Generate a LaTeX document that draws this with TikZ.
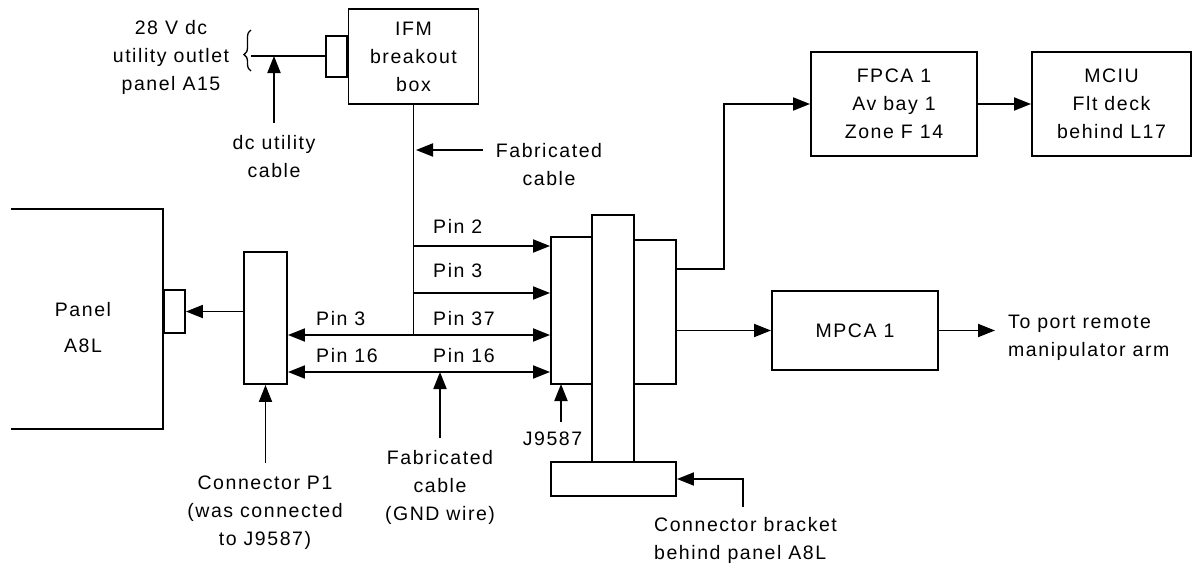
\documentclass[tikz,border=0pt]{standalone}
\usepackage{fontspec}
\setmainfont{Liberation Sans}[LetterSpace=8]
\usetikzlibrary{arrows.meta,positioning,decorations.pathreplacing}
\tikzset{
  box/.style={draw,line width=1.9pt,inner sep=0pt,align=center},
  lbl/.style={inner sep=0pt,align=center},
  wire/.style={line width=1.9pt},
  arr/.style={wire,-{Triangle[length=17pt,width=13pt]}},
  darr/.style={wire,{Triangle[length=17pt,width=13pt]}-{Triangle[length=17pt,width=13pt]}}
}

\begin{document}
\begin{tikzpicture}[x=1pt,y=-1pt,font=\fontsize{19.5}{28}\selectfont]
    \useasboundingbox (0,0) rectangle (1193,565);
    % boxes
    \node[box,minimum width=130pt,minimum height=95pt] (ifm) at (413.5,56.5) {IFM\\breakout\\box};
    \node[box,minimum width=21pt,minimum height=41pt,anchor=east] (ifmplug) at (ifm.west) {};
    \node[inner sep=0pt,minimum width=152pt,minimum height=220pt] (panel) at (87,319) {};
    \draw[wire] (panel.north west) -- (panel.north east) -- (panel.south east) -- (panel.south west);
    \node[lbl,anchor=north] (panellbl) at (83,302) {Panel\\[8pt]A8L};
    \node[box,minimum width=21pt,minimum height=43pt,anchor=west] (pnlconn) at (163,311.5) {};
    \node[box,minimum width=43pt,minimum height=132pt] (p1) at (265.5,318) {};
    \node[box,minimum width=41pt,minimum height=147pt] (jbox) at (571.5,310.5) {};
    \node[box,minimum width=42pt,minimum height=144pt] (rbox) at (655,312) {};
    \node[box,minimum width=42pt,minimum height=247pt] (bar) at (613,338.5) {};
    \node[box,minimum width=125pt,minimum height=34pt] (bracket) at (613.5,479) {};
    \node[box,minimum width=166pt,minimum height=104pt] (fpca) at (894,104) {FPCA 1\\Av bay 1\\Zone F 14};
    \node[box,minimum width=159pt,minimum height=104pt] (mciu) at (1111.5,104) {MCIU\\Flt deck\\behind L17};
    \node[box,minimum width=166pt,minimum height=79pt] (mpca) at (855,330.5) {MPCA 1};
    % labels
    \node[lbl,anchor=north] (outletlbl) at (171,20) {28 V dc\\utility outlet\\panel A15};
    \node[lbl,anchor=north] (dclbl) at (274,135) {dc utility\\cable};
    \node[lbl,anchor=north] (fablbl) at (549,143) {Fabricated\\cable};
    \node[lbl,anchor=north] (p1lbl) at (265,476) {Connector P1\\(was connected\\to J9587)};
    \node[lbl,anchor=north] (gndlbl) at (440,450) {Fabricated\\cable\\(GND wire)};
    \node[lbl,anchor=north] (jlbl) at (552.5,432) {J9587};
    \node[lbl,anchor=north west,align=left] (brktlbl) at (654,517) {Connector bracket\\behind panel A8L};
    \node[lbl,anchor=north west,align=left] (armlbl) at (1008,315) {To port remote\\manipulator arm};
    \node[lbl,anchor=base west] (pin2) at (433,233) {Pin 2};
    \node[lbl,anchor=base west] (pin3) at (433,277) {Pin 3};
    \node[lbl,anchor=base west] (pin37) at (433,325) {Pin 37};
    \node[lbl,anchor=base west] (pin16) at (433,362) {Pin 16};
    \node[lbl,anchor=base west] (pin3l) at (316,325) {Pin 3};
    \node[lbl,anchor=base west] (pin16l) at (316,362) {Pin 16};
    % wiring
    \coordinate (outlet) at (251,56);
    \coordinate (fabtip) at (416,150);
    \coordinate (w2) at (413.5,246);
    \coordinate (w3) at (413.5,293);
    \coordinate (w37) at (413.5,335);
    \coordinate (w16) at (413.5,372);
    \coordinate (jtip) at (561,384);
    \coordinate (brk) at (743,507);
    \coordinate (up) at (724,269);
    \draw[line width=1.3pt,decorate,decoration={brace,amplitude=7pt,aspect=0.4}] (251,71) -- (251,30);
    \draw[wire] (outlet) -- (outlet -| ifmplug.west);
    \draw[arr,shorten <=12pt] (dclbl.north) -- (dclbl.north |- outlet);
    \draw[wire] (ifm.south) -- (w37);
    \draw[arr,shorten <=13pt] (fabtip -| fablbl.west) -- (fabtip);
    \draw[arr] (w2) -- (w2 -| jbox.west);
    \draw[arr] (w3) -- (w3 -| jbox.west);
    \draw[darr] (w37 -| p1.east) -- (w37 -| jbox.west);
    \draw[darr] (w16 -| p1.east) -- (w16 -| jbox.west);
    \draw[arr] (p1.west |- pnlconn) -- (pnlconn.east);
    \draw[arr,shorten <=13pt] (p1.south |- p1lbl.north) -- (p1.south);
    \draw[arr,shorten <=12pt] (gndlbl.north) -- (gndlbl.north |- w16);
    \draw[arr,shorten <=10pt] (jtip |- jlbl.north) -- (jtip);
    \draw[arr] (brk) |- (bracket.east);
    \draw[arr] (up -| rbox.east) -- (up) |- (fpca.west);
    \draw[arr] (fpca) -- (mciu);
    \draw[arr] (rbox.east |- mpca) -- (mpca.west);
    \draw[arr,shorten >=13pt] (mpca.east) -- (mpca.east -| armlbl.west);
\end{tikzpicture}
\end{document}
